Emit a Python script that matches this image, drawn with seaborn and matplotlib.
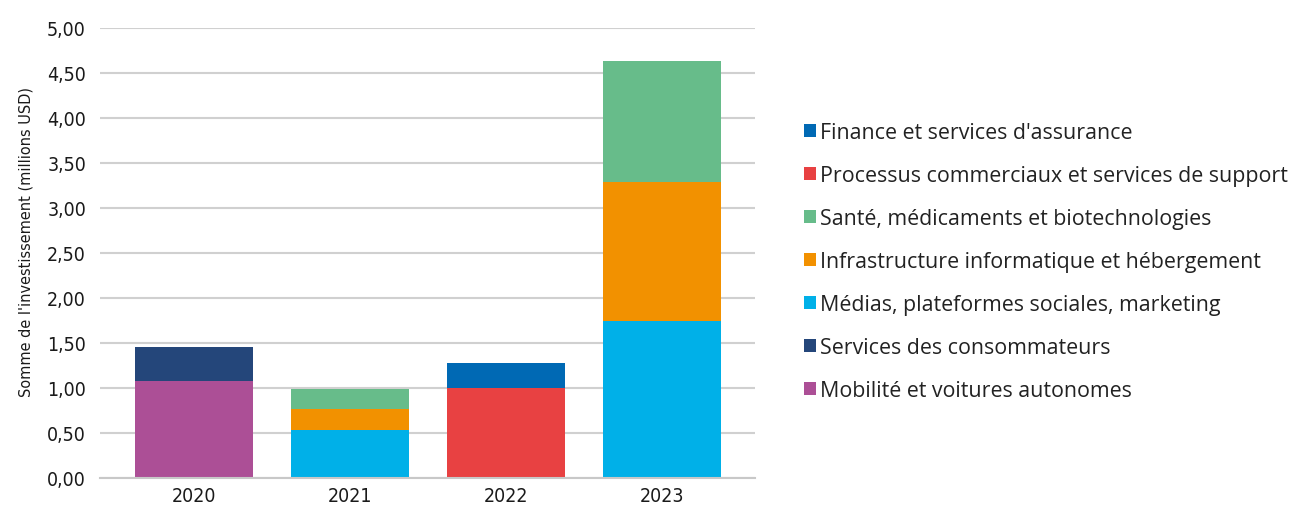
import pandas as pd
import numpy as np
import matplotlib
matplotlib.use("Agg")
import matplotlib.pyplot as plt
from matplotlib.patches import Patch
import seaborn as sns

# Donnees (millions USD)
annees = ["2020", "2021", "2022", "2023"]
secteurs = [
    "Finance et services d'assurance",
    "Processus commerciaux et services de support",
    "Santé, médicaments et biotechnologies",
    "Infrastructure informatique et hébergement",
    "Médias, plateformes sociales, marketing",
    "Services des consommateurs",
    "Mobilité et voitures autonomes",
]
couleurs = ["#0069B4", "#E84142", "#67BC8A", "#F29100", "#00B0E8", "#24467A", "#AC4F96"]

finance = [0.00, 0.00, 0.28, 0.00]
processus = [0.00, 0.00, 0.99, 0.00]
sante = [0.00, 0.22, 0.00, 1.34]
infra = [0.00, 0.23, 0.00, 1.55]
medias = [0.00, 0.53, 0.00, 1.74]
consommateurs = [0.38, 0.00, 0.00, 0.00]
mobilite = [1.07, 0.00, 0.00, 0.00]

valeurs = [finance, processus, sante, infra, medias, consommateurs, mobilite]
yticks = np.arange(0, 5.01, 0.5)

df = pd.DataFrame(
    [(a, s, v[i]) for s, v in zip(secteurs, valeurs) for i, a in enumerate(annees)],
    columns=["annee", "secteur", "valeur"],
)

sns.set_style("white")
plt.rcParams["font.family"] = ["DejaVu Sans"]
plt.rcParams["font.stretch"] = "condensed"

fig = plt.figure(figsize=(12.93, 5.06), dpi=100)
ax = fig.add_axes([0.0773, 0.0543, 0.507, 0.889])

# premier niveau de hue en haut de la pile
sns.histplot(data=df, x="annee", weights="valeur", hue="secteur", hue_order=secteurs,
             palette=couleurs, multiple="stack", discrete=True, shrink=0.756,
             alpha=1, linewidth=0, legend=False, ax=ax)

ax.set_ylim(0, 5)
ax.set_xlim(-0.6, 3.6)
ax.set_yticks(yticks)
ax.set_yticklabels([f"{t:.2f}".replace(".", ",") for t in yticks], fontsize=14)
ax.set_xticks(range(len(annees)))
ax.set_xticklabels(annees, fontsize=14)
ax.tick_params(axis="both", length=0, labelcolor="#1a1a1a")
ax.tick_params(axis="y", pad=10)
ax.tick_params(axis="x", pad=6)
ax.set_xlabel("")
ax.set_ylabel("Somme de l'investissement (millions USD)", fontsize=11.6, color="#1a1a1a")
ax.yaxis.set_label_coords(-0.102, 0.525)
ax.yaxis.grid(True, color="#D0D0D0", linewidth=1.5)
ax.set_axisbelow(True)
for s in ["top", "right", "left"]:
    ax.spines[s].set_visible(False)
ax.spines["bottom"].set_color("#C8C8C8")
ax.spines["bottom"].set_linewidth(1.5)

poignees = [Patch(facecolor=c, edgecolor="none") for c in couleurs]
fig.legend(poignees, secteurs, loc="upper left", bbox_to_anchor=(0.607, 0.795),
           frameon=False,
           prop={"family": ["Open Sans", "DejaVu Sans"], "size": 15.4, "stretch": "normal"},
           handlelength=0.56, handleheight=0.56, handletextpad=0.2, labelspacing=1.03,
           labelcolor="#222222")

fig.savefig("out.png", dpi=100)
